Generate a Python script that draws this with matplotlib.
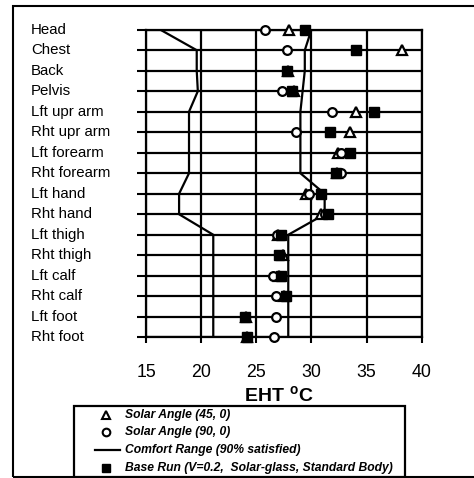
import matplotlib
matplotlib.use("Agg")
import matplotlib.pyplot as plt
from matplotlib import transforms
from matplotlib.patches import Rectangle
from matplotlib.lines import Line2D

plt.rcParams['font.family'] = ['Liberation Sans', 'DejaVu Sans']
plt.rcParams['mathtext.fontset'] = 'custom'
plt.rcParams['mathtext.bf'] = 'Liberation Sans:bold'
plt.rcParams['mathtext.rm'] = 'Liberation Sans'

categories = ['Head', 'Chest', 'Back', 'Pelvis', 'Lft upr arm', 'Rht upr arm',
              'Lft forearm', 'Rht forearm', 'Lft hand', 'Rht hand', 'Lft thigh',
              'Rht thigh', 'Lft calf', 'Rht calf', 'Lft foot', 'Rht foot']

comfort_low = [16.3, 19.6, 19.6, 19.7, 18.9, 18.9, 18.9, 18.9,
               18.0, 18.0, 21.1, 21.1, 21.1, 21.1, 21.1, 21.1]
comfort_high = [30.0, 29.4, 29.4, 29.2, 29.0, 29.0, 29.0, 29.0,
                31.2, 31.2, 27.9, 27.9, 27.9, 27.9, 27.9, 27.9]

solar_45 = [28.0, 38.2, 27.9, 28.4, 34.0, 33.5, 32.4, 32.3,
            29.5, 30.9, 27.0, 27.4, 27.1, 27.5, 24.1, 24.2]
solar_90 = [25.75, 27.8, 27.8, 27.35, 31.9, 28.6, 32.7, 32.7,
            29.8, 31.2, 26.9, 27.1, 26.5, 26.8, 26.75, 26.65]
base_run = [29.4, 34.0, 27.8, 28.25, 35.7, 31.7, 33.5, 32.2,
            30.9, 31.5, 27.25, 27.1, 27.2, 27.65, 24.0, 24.15]

x_ticks = [15, 20, 25, 30, 35, 40]

legend_labels = ['Solar Angle (45, 0)', 'Solar Angle (90, 0)',
                 'Comfort Range (90% satisfied)',
                 'Base Run (V=0.2,  Solar-glass, Standard Body)']

W, H = 474, 478
fig = plt.figure(figsize=(W / 100, H / 100), dpi=100)

# outer frame
fig.patches.append(Rectangle((12.7 / W, 1 - 476.5 / H), 1.2, (476.5 - 6) / H,
                             transform=fig.transFigure, fill=False,
                             edgecolor='black', linewidth=1.5, clip_on=False))

left, right = 146 / W, 421.7 / W
top, bottom = 1 - 29.7 / H, 1 - 337.3 / H
ax = fig.add_axes([left, bottom, right - left, top - bottom])

ypos = list(range(len(categories)))
ax.set_xlim(15, 40)
ax.set_ylim(len(categories) - 1, 0)

ax.set_xticks(x_ticks)
ax.set_xticklabels([str(t) for t in x_ticks], fontsize=12.8)
ax.set_yticks(ypos)
ax.set_yticklabels([])
ax.tick_params(axis='y', length=6.5, width=1.5, direction='out')
ax.tick_params(axis='x', length=4, width=1.5, direction='out', pad=15)
for s in ax.spines.values():
    s.set_linewidth(1.6)
ax.grid(True, color='black', linewidth=1.6)
ax.set_axisbelow(True)

# category labels, left-aligned
tr = transforms.blended_transform_factory(fig.transFigure, ax.transData)
for i, c in enumerate(categories):
    ax.text(31 / W, i, c, transform=tr, ha='left', va='center', fontsize=10.8)

ax.plot(comfort_low, ypos, color='black', linewidth=1.6, zorder=3)
ax.plot(comfort_high, ypos, color='black', linewidth=1.6, zorder=3)

ax.plot(solar_45, ypos, linestyle='none', marker='^', markersize=6.5,
        markerfacecolor='white', markeredgecolor='black', markeredgewidth=1.6,
        zorder=4, clip_on=False)
ax.plot(solar_90, ypos, linestyle='none', marker='o', markersize=6.3,
        markerfacecolor='white', markeredgecolor='black', markeredgewidth=1.6,
        zorder=5, clip_on=False)
ax.plot(base_run, ypos, linestyle='none', marker='s', markersize=6.8,
        markerfacecolor='black', markeredgecolor='black', markeredgewidth=1,
        zorder=6, clip_on=False)

fig.text(279 / W, 1 - 395 / H, r'$\mathbf{EHT\ ^{o}C}$', ha='center',
         va='center', fontsize=14)

# legend box
lx0, ly0, lx1, ly1 = 74, 406, 405, 476.5
fig.patches.append(Rectangle((lx0 / W, 1 - ly1 / H), (lx1 - lx0) / W,
                             (ly1 - ly0) / H, transform=fig.transFigure,
                             fill=True, facecolor='white', edgecolor='black',
                             linewidth=1.6))
rows = [415, 432.3, 450, 467.5]
handles = [
    dict(marker='^', mfc='white', ms=5.5, mew=1.5),
    dict(marker='o', mfc='white', ms=5.5, mew=1.5),
    None,
    dict(marker='s', mfc='black', ms=5.5, mew=1),
]
for y, lab, h in zip(rows, legend_labels, handles):
    yf = 1 - y / H
    if h is None:
        fig.add_artist(Line2D([95 / W, 120 / W], [yf, yf], color='black',
                              linewidth=1.6, transform=fig.transFigure))
    else:
        fig.add_artist(Line2D([106 / W], [yf], linestyle='none',
                              marker=h['marker'], markersize=h['ms'],
                              markerfacecolor=h['mfc'], markeredgecolor='black',
                              markeredgewidth=h['mew'],
                              transform=fig.transFigure))
    fig.text(125 / W, yf, lab, ha='left', va='center', fontsize=8.7,
             fontweight='bold', fontstyle='italic')

fig.savefig('out.png', dpi=100)
